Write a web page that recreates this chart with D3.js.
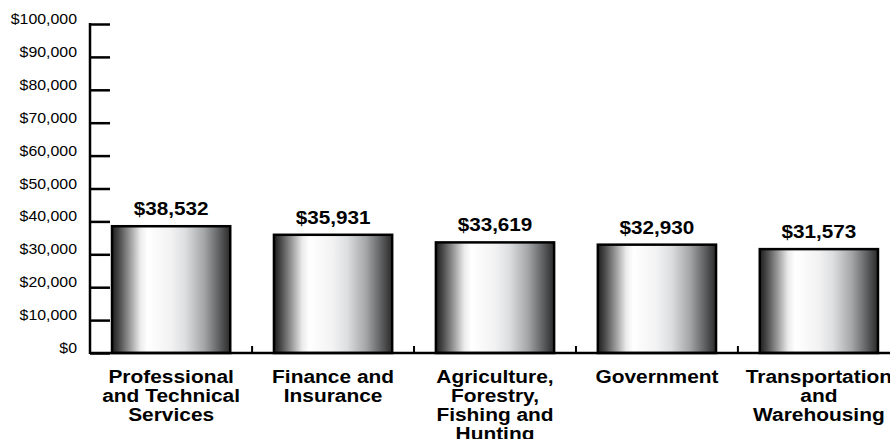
<!DOCTYPE html>
<html>
<head>
<meta charset="utf-8">
<script src="https://cdn.jsdelivr.net/npm/d3@7/dist/d3.min.js"></script>
<style>
  html, body { margin: 0; padding: 0; background: #fff; }
  svg { display: block; }
</style>
</head>
<body>
<svg id="chart" width="890" height="439"></svg>
<script>
const categories = [
  ["Professional", "and Technical", "Services"],
  ["Finance and", "Insurance"],
  ["Agriculture,", "Forestry,", "Fishing and", "Hunting"],
  ["Government"],
  ["Transportation", "and", "Warehousing"]
];
const values = [38532, 35931, 33619, 32930, 31573];
const yTicks = [0, 10000, 20000, 30000, 40000, 50000, 60000, 70000, 80000, 90000, 100000];

const svg = d3.select("#chart");
const x0 = 90, x1 = 900, yTop = 24, yBot = 353;

const keys = categories.map((c, i) => i);
const x = d3.scaleBand().domain(keys).range([x0, x1]).paddingInner(0.27).paddingOuter(0.136);
const y = d3.scaleLinear().domain([0, 100000]).range([yBot, yTop]);
const fmt = d3.format("$,");

// gradient
const defs = svg.append("defs");
const grad = defs.append("linearGradient").attr("id", "barGrad")
  .attr("x1", "0%").attr("x2", "100%").attr("y1", "0%").attr("y2", "0%");
[
  [0, "#1e1e1e"], [0.06, "#4a4a4a"], [0.14, "#909090"], [0.24, "#ebebeb"], [0.3, "#fff"],
  [0.5, "#f2f2f3"], [0.62, "#dcdee0"], [0.78, "#a4a5a7"], [0.9, "#626365"], [1, "#2a2a2a"]
].forEach(([o, c]) => grad.append("stop").attr("offset", o).attr("stop-color", c));

// bars
svg.append("g").selectAll("rect").data(values).join("rect")
  .attr("x", (d, i) => x(i))
  .attr("y", d => y(d))
  .attr("width", x.bandwidth())
  .attr("height", d => y(0) - y(d))
  .attr("fill", "url(#barGrad)")
  .attr("stroke", "#000")
  .attr("stroke-width", 2.5);

// value labels
svg.append("g").selectAll("text").data(values).join("text")
  .attr("transform", (d, i) => `translate(${x(i) + x.bandwidth() / 2},${y(d) - 11}) scale(1.15,1)`)
  .attr("text-anchor", "middle")
  .attr("font-family", "Liberation Sans, Arial, sans-serif")
  .attr("font-weight", "bold")
  .attr("font-size", 18)
  .attr("fill", "#000")
  .text(d => fmt(d));

// y axis
const yAxis = d3.axisRight(y).tickValues(yTicks).tickSize(20).tickFormat("");
const gy = svg.append("g").attr("transform", `translate(${x0},0)`).call(yAxis);
gy.select(".domain").remove();
gy.selectAll(".tick line").attr("stroke", "#000").attr("stroke-width", 2.5);
svg.append("line").attr("x1", x0).attr("x2", x0).attr("y1", yTop - 1).attr("y2", yBot + 1)
  .attr("stroke", "#000").attr("stroke-width", 2.5);

svg.append("g").selectAll("text").data(yTicks).join("text")
  .attr("transform", d => `translate(77,${y(d)}) scale(1.06,1)`)
  .attr("text-anchor", "end")
  .attr("font-family", "Liberation Sans, Arial, sans-serif")
  .attr("font-size", 15)
  .attr("fill", "#000")
  .text(d => fmt(d));

// x axis
svg.append("line").attr("x1", x0).attr("x2", 890).attr("y1", yBot).attr("y2", yBot)
  .attr("stroke", "#000").attr("stroke-width", 2.5);
const xTickPos = keys.slice(1).map(i => x(i) - (x.step() - x.bandwidth()) / 2);
svg.append("g").selectAll("line").data(xTickPos).join("line")
  .attr("x1", d => d).attr("x2", d => d).attr("y1", yBot - 7).attr("y2", yBot)
  .attr("stroke", "#000").attr("stroke-width", 2);

// category labels
const cg = svg.append("g").selectAll("g").data(categories).join("g")
  .attr("transform", (d, i) => `translate(${x(i) + x.bandwidth() / 2},383)`);
cg.each(function(lines) {
  d3.select(this).selectAll("text").data(lines).join("text")
    .attr("transform", (l, j) => `translate(0,${j * 19}) scale(1.1,1)`)
    .attr("text-anchor", "middle")
    .attr("font-family", "Liberation Sans, Arial, sans-serif")
    .attr("font-weight", "bold")
    .attr("font-size", 19)
    .attr("fill", "#000")
    .text(l => l);
});
</script>
</body>
</html>
